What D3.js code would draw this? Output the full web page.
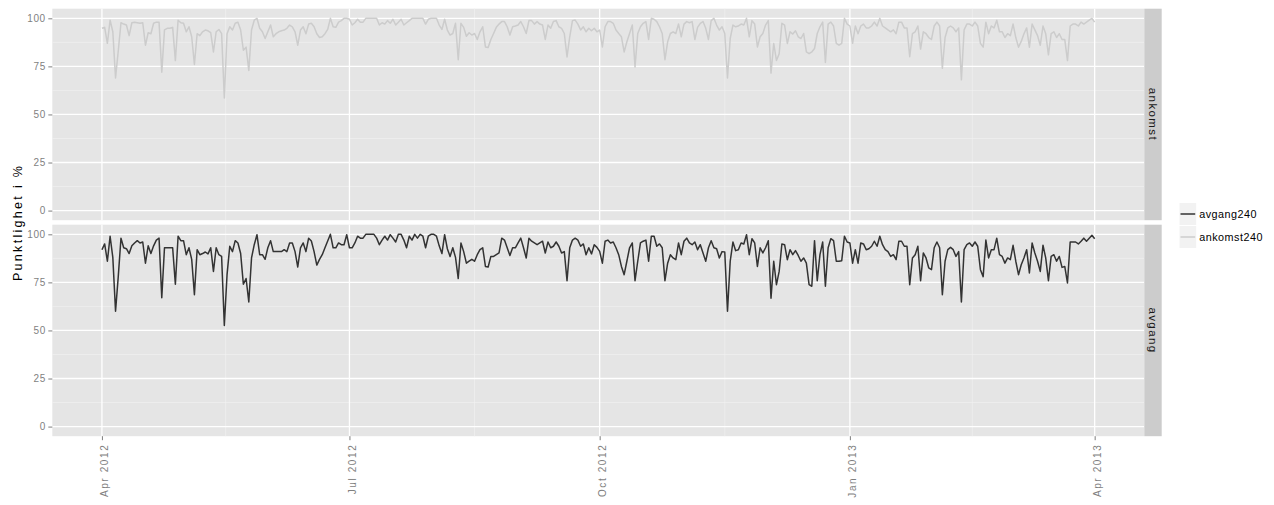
<!DOCTYPE html>
<html>
<head>
<meta charset="utf-8">
<script src="https://cdn.jsdelivr.net/npm/d3@7"></script>
<style>
  body { margin: 0; background: #ffffff; }
  text { font-family: "Liberation Sans", Arial, Helvetica, sans-serif; }
</style>
</head>
<body>
<svg id="chart" width="1274" height="505"></svg>
<script>
// Daily punctuality, first and last day of the series
const firstDay = "2012-04-01";
const lastDay = "2013-04-01";

// Facet panels (top to bottom) and the series shown in each
const facets = ["ankomst", "avgang"];
const facetSeries = ["ankomst240", "avgang240"];
const legendOrder = ["avgang240", "ankomst240"];

// Departures (avgang240), one value per day, percent
const avgang240 = [
  92, 95, 86, 99, 88, 60, 78, 98, 93, 92.5,
  90, 94, 95.5, 96.7, 95.5, 96, 85, 94, 90, 94,
  97, 98, 67, 93, 93, 93, 93, 74, 99, 96.7,
  96.7, 89.4, 93, 87, 68.6, 92, 89.4, 90, 90.8, 89.8,
  93, 80.7, 93, 89.4, 88.5, 52.6, 79, 93.8, 91, 96.7,
  95.5, 90, 74, 77, 64.8, 87.7, 94.6, 99.8, 89.4, 89.4,
  87, 93, 96.7, 91, 91, 91, 91, 92, 91, 95.5,
  95.5, 91, 83, 93, 95.5, 91, 98, 96.5, 91, 84,
  87, 89.4, 93, 96.5, 100, 93, 93, 95.5, 94.6, 94.6,
  99.8, 93, 93, 95.5, 99, 98, 98, 100, 100, 100,
  100, 98, 94.6, 97, 99, 97, 99.8, 98, 96, 100,
  100, 97, 93, 99, 97, 100, 98, 100, 99, 93,
  99, 100, 100, 99, 94, 90, 99.8, 92.5, 88.5, 93,
  88, 77, 95.5, 91, 85, 86, 87, 86, 89.4, 92,
  93, 83.3, 83, 88.5, 88.5, 89.4, 90.3, 98, 97, 93,
  89, 93, 93, 95.5, 98, 93, 87.7, 98, 96.4, 95.5,
  94.6, 95.5, 96.4, 90.3, 96, 93, 93.8, 96, 93.8, 90.3,
  91, 75.9, 93, 97, 98, 97, 93.8, 95, 89.4, 93,
  89.8, 94.6, 93.2, 91.1, 85, 96.4, 97, 95.5, 96, 93,
  89.4, 83.3, 79, 86, 93, 95.5, 75.9, 86, 95.5, 96.4,
  97, 86, 99, 99, 93.8, 95, 93, 75.9, 85, 89.4,
  87.7, 86.8, 95.5, 89.4, 96.4, 98, 95.5, 94.6, 96, 92,
  94.6, 90.3, 86, 93, 96.7, 93, 92.5, 87.7, 91, 90.8,
  60, 86, 96, 91.5, 92, 95.5, 95, 99.8, 89.4, 97.7,
  95.5, 83.3, 93, 90.3, 93, 96.7, 66.8, 86, 73.8, 80.7,
  95, 94.6, 86.8, 92, 89.4, 91.5, 89, 86, 87.7, 85,
  73.8, 73, 96.7, 75.9, 89.4, 96, 73, 93, 97.7, 96.7,
  86, 86, 86.3, 99, 96, 95.5, 85, 92, 85, 95.5,
  95, 92, 92.5, 93.8, 96.4, 93.8, 99, 94.6, 92, 91,
  88.5, 89.4, 86.8, 96.4, 96.4, 93.8, 93.8, 73.8, 87.7, 89.4,
  93.8, 75.9, 90.3, 87.7, 82.5, 81.6, 93, 96, 93, 68.6,
  86, 92, 93.2, 92, 88.5, 91, 64.8, 92, 94.6, 95.5,
  93.8, 96, 93.8, 81.6, 78, 97, 87.7, 92, 92, 98,
  89.4, 88.5, 85, 87.7, 86.8, 94.3, 86, 79, 84.2, 87.7,
  92, 79.9, 95.5, 90.3, 86, 80.7, 94.3, 87.7, 75.9, 88.5,
  89.4, 86, 88.5, 82.8, 83.3, 74.7, 96, 96, 96, 95,
  96.4, 98, 96.4, 98, 99.5, 97.7
];

// Arrivals (ankomst240), one value per day, percent
const ankomst240 = [
  94.8, 95.3, 87, 99, 93, 69, 83, 97.7, 97, 96.5,
  91, 97.7, 98, 97.7, 97.4, 97.7, 86, 92.5, 92, 97.4,
  98, 98, 72, 94, 94.8, 94.8, 95.3, 78, 99, 97.7,
  97.4, 93, 95.6, 90.4, 76, 92, 91, 93, 93.9, 93.5,
  92.5, 82.5, 93, 94.2, 92, 58.6, 92, 95.6, 93.9, 97.4,
  98, 93.9, 83.4, 85, 72.9, 93.9, 99, 100, 94.8, 93,
  89.5, 93, 96.5, 90.4, 92, 93, 93.5, 93.9, 94.8, 96.5,
  95.6, 93, 86, 93.9, 95.6, 92, 97, 97.4, 95.6, 92,
  90, 90.4, 92, 94.2, 100, 95.6, 95.3, 98, 98.8, 100,
  100, 99.5, 96.5, 97.7, 99.5, 98, 98, 100, 100, 100,
  100, 100, 96.5, 97.7, 97, 98.8, 97.4, 99.5, 96.5, 98,
  99.5, 96.5, 97.7, 98.8, 100, 100, 100, 100, 100, 97,
  99.5, 100, 100, 100, 96.5, 94.2, 99.5, 93.9, 91.3, 92.1,
  97.4, 78.5, 97.4, 95.3, 90.7, 92.5, 91.3, 92.1, 89, 93,
  95.6, 85.1, 84.8, 89, 92.1, 95.3, 97, 98.3, 98.3, 95.6,
  91.3, 95.6, 96, 96.5, 98.3, 95.6, 92.1, 98.8, 98.8, 97,
  98.3, 97, 96.5, 89, 96.5, 94.8, 98.3, 98.8, 95.6, 94.8,
  92.1, 79.9, 90.4, 98.8, 99.1, 97, 93.9, 95.6, 93, 94.8,
  93.5, 94.8, 93, 93.9, 85.1, 95.6, 98.3, 98.3, 97.4, 93.9,
  92.1, 90.4, 82.5, 87.8, 92.1, 96.5, 74.7, 92.1, 95.6, 97.4,
  98.3, 89, 100, 99.5, 98.3, 95.6, 92.1, 78.5, 87.8, 92.1,
  93, 92.1, 97, 90.4, 97, 98.3, 97.7, 98.3, 89, 95.3,
  97.4, 98.3, 94.8, 89, 98.8, 100, 96.5, 93.9, 95.6, 92.1,
  69, 89.5, 96.5, 95.6, 96, 97, 96.5, 100, 90.4, 98.8,
  97, 85.1, 90.4, 92.1, 96.5, 98.8, 71.5, 86.9, 78.1, 81.6,
  97.4, 96.5, 86.9, 93, 91.8, 93.5, 90.4, 89.5, 92.1, 82.5,
  81.6, 82.5, 84.3, 92.1, 95.6, 98, 77, 97, 98, 96,
  87, 86, 87, 100, 97, 96, 87, 96, 92, 96,
  97, 95, 95, 96, 98, 96, 100, 96, 95, 94,
  93, 94, 92, 98, 98, 95, 95, 80, 92, 93,
  96, 84, 93, 92, 90, 89, 96, 98, 96, 74,
  90, 95, 96, 95, 93, 95, 68, 94, 97, 97,
  96, 98, 96, 87, 85, 98, 92, 96, 95, 99,
  93, 93, 90, 92, 91, 97, 90, 85, 88, 92,
  95, 85, 97, 94, 91, 86, 96, 92, 81, 92,
  93, 90, 92, 89, 89, 78, 96, 97, 97, 96,
  98, 97, 98, 99, 100, 98
];

// Axis ticks and labels
const yTicks = [0, 25, 50, 75, 100];
const yMinorTicks = [12.5, 37.5, 62.5, 87.5];
const xTickDates = ["2012-04-01", "2012-07-01", "2012-10-01", "2013-01-01", "2013-04-01"];
const xTickLabels = ["Apr 2012", "Jul 2012", "Oct 2012", "Jan 2013", "Apr 2013"];
const yTitle = "Punktlighet i %";

// Theme colours
const seriesColour = { avgang240: "#333333", ankomst240: "#cccccc" };
const panelFill = "#e5e5e5";
const minorGrid = "#f2f2f2";
const stripFill = "#cccccc";
const axisGrey = "#7f7f7f";

const valuesBySeries = { avgang240, ankomst240 };

const parse = d3.utcParse("%Y-%m-%d");
const days = d3.utcDay.range(parse(firstDay), d3.utcDay.offset(parse(lastDay), 1));

const svg = d3.select("#chart");

// Layout
const plotLeft = 52.3, plotRight = 1144.3;
const panelTops = [8.7, 224.7];
const panelHeight = 211.5;
const stripWidth = 17.4;

// x scale with 5% expansion on each side
const span = days[days.length - 1] - days[0];
const x = d3.scaleUtc()
  .domain([new Date(+days[0] - span * 0.05), new Date(+days[days.length - 1] + span * 0.05)])
  .range([plotLeft, plotRight]);

const xMajor = xTickDates.map(parse);
const xMinor = d3.pairs(xMajor).map(([a, b]) => new Date((+a + +b) / 2));

facets.forEach((facet, i) => {
  const top = panelTops[i];
  const y = d3.scaleLinear()
    .domain([-5, 105])
    .range([top + panelHeight, top]);

  const g = svg.append("g");

  g.append("rect")
    .attr("x", plotLeft).attr("y", top)
    .attr("width", plotRight - plotLeft).attr("height", panelHeight)
    .attr("fill", panelFill);

  // minor grid
  g.selectAll(null).data(yMinorTicks).join("line")
    .attr("x1", plotLeft).attr("x2", plotRight)
    .attr("y1", d => y(d)).attr("y2", d => y(d))
    .attr("stroke", minorGrid).attr("stroke-width", 0.6);
  g.selectAll(null).data(xMinor).join("line")
    .attr("x1", d => x(d)).attr("x2", d => x(d))
    .attr("y1", top).attr("y2", top + panelHeight)
    .attr("stroke", minorGrid).attr("stroke-width", 0.6);

  // major grid
  g.selectAll(null).data(yTicks).join("line")
    .attr("x1", plotLeft).attr("x2", plotRight)
    .attr("y1", d => y(d)).attr("y2", d => y(d))
    .attr("stroke", "#ffffff").attr("stroke-width", 1.3);
  g.selectAll(null).data(xMajor).join("line")
    .attr("x1", d => x(d)).attr("x2", d => x(d))
    .attr("y1", top).attr("y2", top + panelHeight)
    .attr("stroke", "#ffffff").attr("stroke-width", 1.3);

  // series line
  const name = facetSeries[i];
  const vals = valuesBySeries[name];
  const line = d3.line()
    .x((d, k) => x(days[k]))
    .y(d => y(d));
  g.append("path")
    .attr("d", line(vals))
    .attr("fill", "none")
    .attr("stroke", seriesColour[name])
    .attr("stroke-width", 1.5)
    .attr("stroke-linejoin", "round");

  // y axis
  const yAxis = d3.axisLeft(y).tickValues(yTicks).tickSize(4).tickPadding(2.5);
  const ya = g.append("g").attr("transform", `translate(${plotLeft},0)`).call(yAxis);
  ya.select(".domain").remove();
  ya.selectAll(".tick line").attr("stroke", axisGrey).attr("stroke-width", 1);
  ya.selectAll(".tick text")
    .attr("fill", axisGrey)
    .attr("font-size", 10)
    .attr("letter-spacing", 0.6)
    .attr("font-family", "Liberation Sans, Arial, sans-serif");

  // facet strip
  g.append("rect")
    .attr("x", plotRight).attr("y", top)
    .attr("width", stripWidth).attr("height", panelHeight)
    .attr("fill", stripFill);
  g.append("text")
    .attr("transform", `translate(${plotRight + stripWidth / 2},${top + panelHeight / 2}) rotate(90)`)
    .attr("text-anchor", "middle")
    .attr("dominant-baseline", "central")
    .attr("font-size", 11.5)
    .attr("letter-spacing", 1.4)
    .attr("fill", "#1a1a1a")
    .text(facet);
});

// x axis under the bottom panel
const bottom = panelTops[1] + panelHeight;
const xAxis = d3.axisBottom(x).tickValues(xMajor).tickSize(4).tickFormat((d, k) => xTickLabels[k]);
const xa = svg.append("g").attr("transform", `translate(0,${bottom})`).call(xAxis);
xa.select(".domain").remove();
xa.selectAll(".tick line").attr("stroke", axisGrey).attr("stroke-width", 1);
xa.selectAll(".tick text")
  .attr("fill", axisGrey)
  .attr("font-size", 10)
  .attr("letter-spacing", 1.6)
  .attr("font-family", "Liberation Sans, Arial, sans-serif")
  .attr("text-anchor", "end")
  .attr("dominant-baseline", "central")
  .attr("dy", null)
  .attr("y", 0)
  .attr("transform", "translate(2.5,7.5) rotate(-90)");

// y axis title
svg.append("text")
  .attr("transform", `translate(17.5,${(panelTops[0] + bottom) / 2}) rotate(-90)`)
  .attr("text-anchor", "middle")
  .attr("dominant-baseline", "central")
  .attr("font-size", 12.5)
  .attr("letter-spacing", 2.3)
  .attr("fill", "#000000")
  .text(yTitle);

// legend
const legendX = 1179, legendTop = 202.5, keyW = 17.7, keyH = 23;
const lg = svg.append("g");
legendOrder.forEach((name, k) => {
  const ky = legendTop + k * keyH;
  lg.append("rect")
    .attr("x", legendX).attr("y", ky)
    .attr("width", keyW).attr("height", keyH)
    .attr("fill", "#f2f2f2").attr("stroke", "#ffffff").attr("stroke-width", 1);
  lg.append("line")
    .attr("x1", legendX + 1.5).attr("x2", legendX + keyW - 1.5)
    .attr("y1", ky + keyH / 2).attr("y2", ky + keyH / 2)
    .attr("stroke", seriesColour[name]).attr("stroke-width", 1.5);
  lg.append("text")
    .attr("x", legendX + keyW + 2.5).attr("y", ky + keyH / 2)
    .attr("dominant-baseline", "central")
    .attr("font-size", 10.8)
    .attr("letter-spacing", 0.5)
    .attr("fill", "#000000")
    .text(name);
});
</script>
</body>
</html>
